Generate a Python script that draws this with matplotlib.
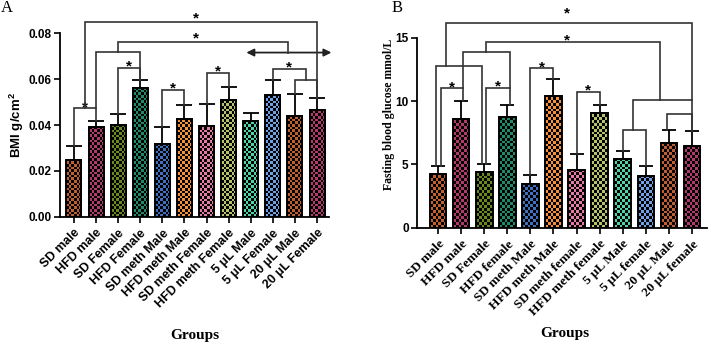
import numpy as np
import matplotlib
matplotlib.use('Agg')
import matplotlib.pyplot as plt
from matplotlib.colors import to_rgb

plt.rcParams['mathtext.fontset'] = 'custom'
plt.rcParams['mathtext.rm'] = 'Liberation Sans:bold'
plt.rcParams['mathtext.bf'] = 'Liberation Sans:bold'

# panel A: BMI
groups_a = ['SD male', 'HFD male', 'SD Female', 'HFD Female', 'SD meth Male',
            'HFD meth Male', 'SD meth Female', 'HFD meth Female', '5 \u03bcL Male',
            '5 \u03bcL Female', '20 \u03bcL Male', '20 \u03bcL Female']
bmi_mean = [0.0247, 0.0393, 0.0399, 0.0560, 0.0317, 0.0426,
            0.0396, 0.0509, 0.0417, 0.0530, 0.0441, 0.0467]
bmi_err = [0.0063, 0.0026, 0.0049, 0.0035, 0.0074, 0.0061,
           0.0097, 0.0055, 0.0034, 0.0066, 0.0094, 0.0051]

# panel B: fasting glucose
groups_b = ['SD male', 'HFD male', 'SD Female', 'HFD female', 'SD meth Male',
            'HFD meth Male', 'SD meth female', 'HFD meth female', '5 \u03bcL Male',
            '5 \u03bcL female', '20 \u03bcL Male', '20 \u03bcL female']
glu_mean = [4.21, 8.58, 4.42, 8.76, 3.42, 10.42, 4.58, 9.05, 5.42, 4.05, 6.71, 6.47]
glu_err = [0.68, 1.42, 0.61, 0.92, 0.74, 1.29, 1.21, 0.61, 0.63, 0.84, 1.03, 1.19]

colors = ['#C0602F', '#B03A6A', '#6A8A20', '#1F8A6A', '#3F70C0', '#F5913A',
          '#E57AA5', '#B8C266', '#4FD4A8', '#6F9FE5', '#C0602F', '#B03A6A']

LINE = '#333333'
SANS = 'Liberation Sans'
SERIF = 'Liberation Serif'


def checker_bars(ax, means, errs, width, sq_h, capsize):
    x = np.arange(len(means))
    bars = ax.bar(x, means, width, facecolor='none', edgecolor='black',
                  linewidth=1.4, zorder=3)
    for xi, h, c, b in zip(x, means, colors, bars):
        ny = int(np.ceil(h / sq_h))
        grid = np.add.outer(np.arange(ny), np.arange(6)) % 2
        img = np.zeros((ny, 6, 3))
        img[grid == 0] = to_rgb(c)
        im = ax.imshow(img, extent=[xi - width / 2, xi + width / 2, 0, ny * sq_h],
                       origin='lower', aspect='auto', interpolation='nearest', zorder=2)
        im.set_clip_path(b)
    ax.errorbar(x, means, yerr=[np.zeros(len(errs)), errs], fmt='none', ecolor='black',
                elinewidth=1.3, capsize=capsize, capthick=1.3, zorder=4)
    return np.array(means) + np.array(errs)


def path(ax, xs, ys):
    ax.plot(xs, ys, color=LINE, lw=1.2, clip_on=False, zorder=5,
            solid_joinstyle='miter')


def star(ax, x, y, dy=-2):
    ax.annotate('*', xy=(x, y), xytext=(0, dy), textcoords='offset points',
                ha='center', va='baseline', fontsize=11, fontweight='bold',
                family=SANS, annotation_clip=False)


def bracket(ax, i, j, y, yi, yj, sig=True):
    path(ax, [i, i, j, j], [yi, y, y, yj])
    if sig:
        star(ax, (i + j) / 2, y)


def style_axis(ax, labels, fam, size):
    for s in ['top', 'right']:
        ax.spines[s].set_visible(False)
    for s in ['left', 'bottom']:
        ax.spines[s].set_linewidth(1.3)
    ax.set_xticks(np.arange(len(labels)))
    ax.set_xticklabels(labels, rotation=45, ha='right', rotation_mode='anchor',
                       family=fam, fontweight='bold', fontsize=size)
    ax.tick_params(axis='both', length=4, width=1.2)
    ax.tick_params(axis='y', pad=2)
    for t in ax.get_yticklabels():
        t.set_family(SANS)
        t.set_fontweight('bold')
        t.set_fontsize(8.5)


fig = plt.figure(figsize=(7.08, 3.44), dpi=100)

# ---- A ----
ax = fig.add_axes([60 / 708, 127.3 / 344, 269 / 708, 183.4 / 344])
top = checker_bars(ax, bmi_mean, bmi_err, 0.68, 0.00115, 5.5)
ax.set_xlim(-0.63, 11.54)
ax.set_ylim(0, 0.08)
ax.set_yticks([0, 0.02, 0.04, 0.06, 0.08])
ax.set_yticklabels(['0.00', '0.02', '0.04', '0.06', '0.08'])
style_axis(ax, groups_a, SANS, 9)

bracket(ax, 0, 1, 0.0473, top[0], top[1])
bracket(ax, 2, 3, 0.065, top[2], top[3])
bracket(ax, 1, 3, 0.072, 0.0473, top[3], sig=False)
path(ax, [0.5, 0.5, 11, 11], [0.0473, 0.0848, 0.0848, top[11]])
star(ax, 5.5, 0.0848, 0)
path(ax, [2, 2, 9.7, 9.7], [0.072, 0.0764, 0.0764, 0.0716])
star(ax, 5.5, 0.0764, -1)
ax.annotate('', xy=(7.8, 0.0716), xytext=(11.65, 0.0716), annotation_clip=False,
            arrowprops=dict(arrowstyle='<|-|>', color='#222222', lw=1.3,
                            mutation_scale=11, shrinkA=0, shrinkB=0))
bracket(ax, 4, 5, 0.0553, top[4], top[5])
bracket(ax, 6, 7, 0.0626, top[6], top[7])
bracket(ax, 10, 11, 0.0597, top[10], top[11], sig=False)
bracket(ax, 9, 10.5, 0.0645, top[9], 0.0597)

fig.text(17 / 708, 1 - 125 / 344, r'BMI g/cm$^\mathbf{2}$', rotation=90, ha='center',
         va='center', family=SANS, fontweight='bold', fontsize=9.5)
fig.text(195 / 708, 1 - 336 / 344, 'Groups', ha='center', va='center',
         family=SERIF, fontweight='bold', fontsize=11)
fig.text(7 / 708, 1 - 8 / 344, 'A', ha='center', va='center', family=SERIF, fontsize=12)

# ---- B ----
ax = fig.add_axes([417 / 708, 116.3 / 344, 290 / 708, 190 / 344])
top = checker_bars(ax, glu_mean, glu_err, 0.72, 0.23, 5)
ax.set_xlim(-0.91, 11.65)
ax.set_ylim(0, 15)
ax.set_yticks([0, 5, 10, 15])
style_axis(ax, groups_b, SERIF, 9.5)

bracket(ax, 0.15, 1.1, 11.0, top[0], top[1])
bracket(ax, 2.08, 3.1, 11.05, top[2], top[3])
bracket(ax, 1.1, 3.1, 13.9, 11.0, 11.05, sig=False)
bracket(ax, -0.1, 1.92, 12.79, top[0], top[2], sig=False)
path(ax, [0.35, 0.35, 11, 11], [12.79, 16.13, 16.13, top[11]])
star(ax, 5.57, 16.13, 4)
path(ax, [2.1, 2.1, 9.6, 9.6], [13.9, 14.68, 14.68, 10.08])
star(ax, 5.58, 14.68, -2)
path(ax, [8.43, 8.43, 11], [7.71, 10.08, 10.08])
bracket(ax, 8, 9, 7.71, top[8], top[9], sig=False)
bracket(ax, 9.93, 11, 8.95, top[10], top[11], sig=False)
bracket(ax, 4, 5, 12.58, top[4], top[5])
bracket(ax, 6, 7, 10.74, top[6], top[7])

fig.text(389 / 708, 1 - 114 / 344, 'Fasting blood glucose mmol/L', rotation=90,
         ha='center', va='center', family=SERIF, fontweight='bold', fontsize=8.5)
fig.text(565 / 708, 1 - 333 / 344, 'Groups', ha='center', va='center',
         family=SERIF, fontweight='bold', fontsize=11)
fig.text(397 / 708, 1 - 8 / 344, 'B', ha='center', va='center', family=SERIF, fontsize=12)

fig.savefig('out.png', dpi=100)
